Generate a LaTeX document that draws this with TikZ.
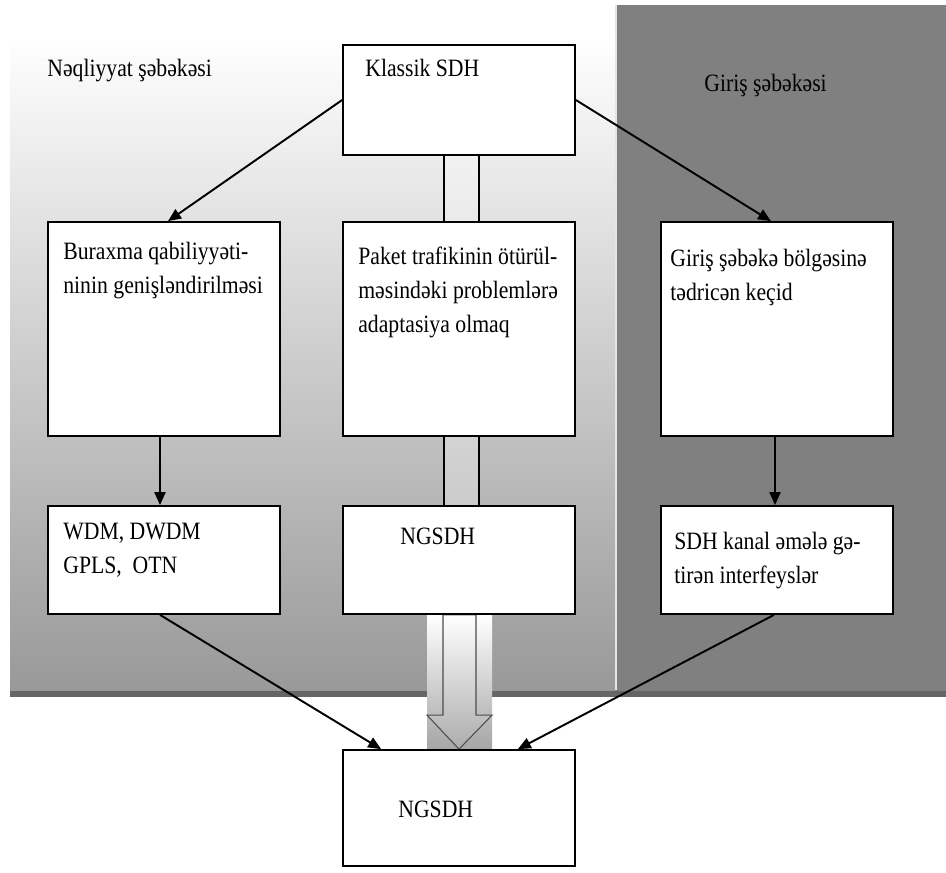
\documentclass[tikz,border=0pt]{standalone}
\usepackage{fontspec}
\setmainfont{Liberation Serif}[FakeStretch=0.87]
\usetikzlibrary{positioning, arrows.meta, backgrounds, calc}

\begin{document}
\begin{tikzpicture}[
      x=0.02cm, y=-0.02cm,
      box/.style={draw, fill=white, line width=1pt,
          minimum width=4.64cm, inner sep=0pt},
      txt/.style={anchor=base west, inner sep=0pt, align=left,
          font=\fontsize{14.2}{19.3}\selectfont},
      arr/.style={-{Triangle[length=2.6mm, width=2.2mm]}, line width=1.1pt},
      pipe/.style={line width=1pt},
    ]
    \useasboundingbox (0,0) rectangle (946,872);

    %% --- Boxes ---
    \node[box, minimum height=2.2cm]  (klassik) at (459,100) {};
    \node[box, minimum height=4.28cm] (bur)     at (164,329) {};
    \node[box, minimum height=4.28cm] (paket)   at (459,329) {};
    \node[box, minimum height=4.28cm] (giris)   at (777,329) {};
    \node[box, minimum height=2.16cm] (wdm)     at (164,560) {};
    \node[box, minimum height=2.16cm] (ngmid)   at (459,560) {};
    \node[box, minimum height=2.16cm] (sdh)     at (777,560) {};
    \node[box, minimum height=2.32cm] (ngbot)   at (459,808) {};

    %% --- Texts (base = last line) ---
    \node[txt] (tnet) at (47,76)   {Nəqliyyat şəbəkəsi};
    \node[txt] (tacc) at (704,91)  {Giriş şəbəkəsi};
    \node[txt] (tkl)  at (365,76)  {Klassik SDH};
    \node[txt] (tbur) at (63,293)  {Buraxma qabiliyyəti-\\ninin genişləndirilməsi};
    \node[txt] (tpak) at (358,332) {Paket trafikinin ötürül-\\məsindəki problemlərə\\adaptasiya olmaq};
    \node[txt] (tgir) at (670,300) {Giriş şəbəkə bölgəsinə\\tədricən keçid};
    \node[txt] (twdm) at (63,573)  {WDM, DWDM\\GPLS,\ \ OTN};
    \node[txt] (tngm) at (400,544) {NGSDH};
    \node[txt] (tsdh) at (674,583) {SDH kanal əmələ gə-\\tirən interfeyslər};
    \node[txt] (tngb) at (398,817) {NGSDH};

    %% --- Arrows ---
    \draw[arr] (klassik.west) -- ($(bur.north)+(4,0)$);
    \draw[arr] (klassik.east) -- ($(giris.north)+(-6,0)$);
    \draw[arr] ($(bur.south)+(-4,0)$) -- ($(wdm.north)+(-4,0)$);
    \draw[arr] ($(giris.south)+(-2,0)$) -- ($(sdh.north)+(-2,0)$);
    \draw[arr] ($(wdm.south)+(-4,0)$) -- ($(ngbot.north west)+(39,0)$);
    \draw[arr] ($(sdh.south)+(-3,0)$) -- ($(ngbot.north east)+(-58,0)$);

    %% --- Pipes in the middle column ---
    \foreach \a/\b in {klassik/paket, paket/ngmid} {
      \fill[white, opacity=0.3] ($(\a.south)+(-15,0)$) rectangle ($(\b.north)+(20,0)$);
      \draw[pipe] ($(\a.south)+(-15,0)$) -- ($(\b.north)+(-15,0)$);
      \draw[pipe] ($(\a.south)+(20,0)$) -- ($(\b.north)+(20,0)$);
    }

    %% --- Network areas ---
    \begin{scope}[on background layer]
      \shade[top color=white, bottom color=gray!80] (10,35) rectangle (615,690);
      \fill[gray] (615,5) rectangle (946,697);
      \draw[white!80!gray, line width=1pt] (616,5) -- (616,690);
      \fill[black!60] (10,691) rectangle (946,697);
      % hollow block arrow
      \shade[top color=white, bottom color=gray!70]
        ($(ngmid.south)+(-32,0)$) rectangle ($(ngbot.north)+(33,0)$);
      \draw[black!70, line width=0.6pt, top color=white, bottom color=gray!65]
        ($(ngmid.south)+(-16,0)$) -- ($(ngmid.south)+(17,0)$)
        -- ($(ngbot.north)+(17,-34)$) -- ($(ngbot.north)+(33,-34)$)
        -- (ngbot.north) -- ($(ngbot.north)+(-32,-34)$)
        -- ($(ngbot.north)+(-16,-34)$) -- cycle;
    \end{scope}

  \end{tikzpicture}
\end{document}
